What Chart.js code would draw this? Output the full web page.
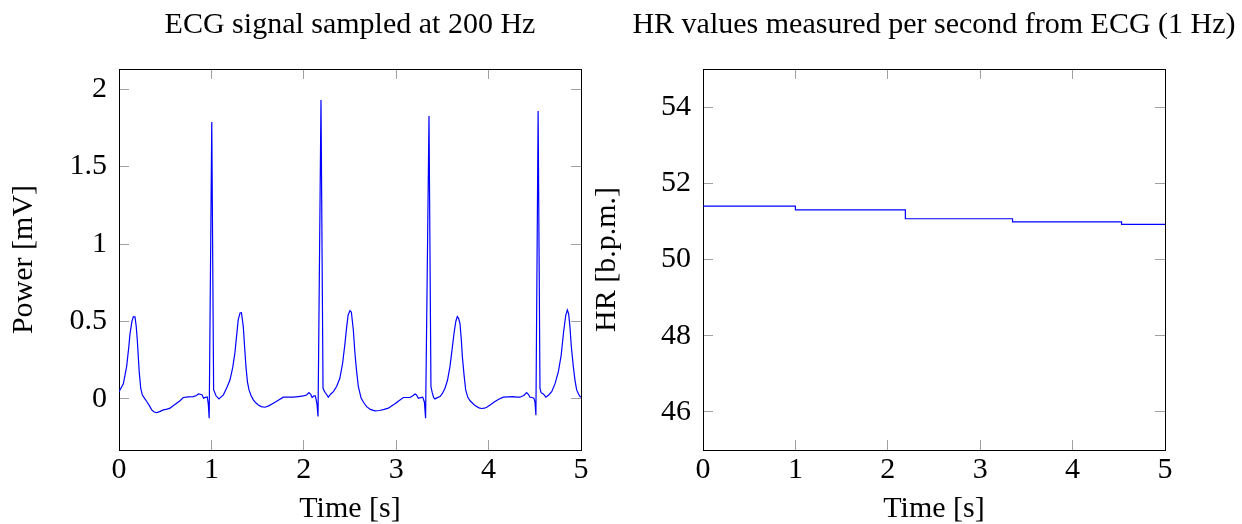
<!DOCTYPE html>
<html>
<head>
<meta charset="utf-8">
<script src="https://cdn.jsdelivr.net/npm/chart.js@4.4.1/dist/chart.umd.min.js"></script>
<style>
  html, body { margin: 0; padding: 0; background: #fff; overflow: hidden; }
  #wrap { position: relative; width: 1242px; height: 524px; overflow: hidden; background: #fff; }
  canvas { position: absolute; top: 0; }
  #ecgChart { left: 0px; }
  #hrChart { left: 580px; }
</style>
</head>
<body>
<div id="wrap">
  <canvas id="ecgChart" width="700" height="524"></canvas>
  <canvas id="hrChart" width="708" height="524"></canvas>
</div>
<script>
//ECG trace (time in s, power in mV)
const ecgTime = [
  0.000, 0.047, 0.083, 0.105, 0.119, 0.140, 0.155, 0.173, 0.186, 0.198, 0.210, 0.220, 0.235, 0.252,
  0.275, 0.300, 0.330, 0.354, 0.380, 0.408, 0.440, 0.480, 0.520, 0.552, 0.590, 0.624, 0.660, 0.696,
  0.750, 0.804, 0.840, 0.858, 0.880, 0.900, 0.915, 0.935, 0.955,
  0.966, 0.976, 1.004, 1.024,
  1.050, 1.082, 1.100, 1.130, 1.165, 1.200, 1.230, 1.255, 1.275, 1.290, 1.310, 1.325, 1.345, 1.360,
  1.374, 1.390, 1.407, 1.430, 1.454, 1.480, 1.508, 1.540, 1.580, 1.620, 1.670, 1.720, 1.778, 1.830,
  1.886, 1.940, 1.995, 2.030, 2.056, 2.075, 2.090, 2.110, 2.125,
  2.142, 2.154, 2.186, 2.208, 2.222,
  2.245, 2.265, 2.290, 2.320, 2.355, 2.390, 2.420, 2.446, 2.465, 2.480, 2.500, 2.515, 2.536, 2.553,
  2.570, 2.590, 2.620, 2.650, 2.680, 2.720, 2.770, 2.820, 2.870, 2.915, 2.950, 2.987, 3.030, 3.077,
  3.115, 3.150, 3.180, 3.203, 3.220, 3.240, 3.265, 3.287,
  3.305, 3.318, 3.355, 3.376, 3.390,
  3.405, 3.420, 3.445, 3.474, 3.500, 3.528, 3.555, 3.582, 3.605, 3.626, 3.645, 3.661, 3.675, 3.690,
  3.705, 3.716, 3.735, 3.752, 3.775, 3.800, 3.830, 3.853, 3.896, 3.925, 3.955, 3.980, 4.020, 4.069,
  4.110, 4.160, 4.210, 4.267, 4.300, 4.340, 4.380, 4.412, 4.430, 4.448, 4.470, 4.490,
  4.502, 4.512, 4.536, 4.556, 4.568,
  4.595, 4.620, 4.650, 4.683, 4.720, 4.755, 4.785, 4.810, 4.835, 4.852, 4.866, 4.880, 4.895, 4.917,
  4.935, 4.953, 4.975, 4.990, 5.000
]
const ecgPower = [
  0.047, 0.097, 0.21, 0.33, 0.42, 0.50, 0.53, 0.53, 0.47, 0.38, 0.26, 0.166, 0.07, 0.026,
  0.005, -0.017, -0.045, -0.071, -0.085, -0.088, -0.082, -0.071, -0.066, -0.06, -0.043, -0.028, -0.012, 0.009,
  0.013, 0.015, 0.022, 0.032, 0.030, 0.026, 0.005, 0.010, 0.012,
  -0.03, -0.125, 1.787, 0.06,
  0.02, 0.0, 0.01, 0.026, 0.07, 0.12, 0.20, 0.30, 0.42, 0.51, 0.555, 0.557, 0.467, 0.33,
  0.208, 0.11, 0.058, 0.02, -0.006, -0.025, -0.039, -0.05, -0.054, -0.045, -0.028, -0.01, 0.011, 0.011,
  0.011, 0.015, 0.019, 0.025, 0.041, 0.03, 0.009, 0.02, 0.02,
  -0.03, -0.114, 1.93, 0.07, 0.05,
  0.03, 0.011, 0.03, 0.047, 0.08, 0.133, 0.23, 0.36, 0.47, 0.542, 0.57, 0.56, 0.445, 0.30,
  0.187, 0.08, 0.005, -0.025, -0.05, -0.068, -0.077, -0.075, -0.068, -0.06, -0.046, -0.032, -0.012, 0.009,
  0.009, 0.009, 0.02, 0.032, 0.025, 0.004, 0.008, 0.011,
  -0.02, -0.125, 1.826, 0.08, 0.04,
  0.01, 0.0, 0.008, 0.015, 0.035, 0.069, 0.12, 0.208, 0.32, 0.424, 0.50, 0.531, 0.52, 0.488,
  0.38, 0.273, 0.15, 0.058, 0.01, -0.012, -0.03, -0.042, -0.058, -0.062, -0.06, -0.054, -0.038, -0.017,
  -0.002, 0.011, 0.013, 0.015, 0.012, 0.011, 0.022, 0.041, 0.03, 0.011, 0.009, 0.005,
  -0.02, -0.105, 1.858, 0.069, 0.04,
  0.03, 0.011, 0.025, 0.047, 0.10, 0.176, 0.28, 0.424, 0.54, 0.574, 0.55, 0.467, 0.34, 0.208,
  0.12, 0.058, 0.03, 0.015, 0.01
]

//HR steps, a new value after each detected beat
const hrTime = [0, 1.0, 2.19, 3.35, 4.53, 5]
const hrValue = [51.4, 51.3, 51.07, 50.99, 50.92, 50.92]

//axis ranges and tick labels
const timeRange = [0, 5]
const powerRange = [-0.33, 2.13]
const hrRange = [45, 55]
const timeTicks = [0, 1, 2, 3, 4, 5]
const powerTicks = [0, 0.5, 1, 1.5, 2]
const hrTicks = [46, 48, 50, 52, 54]

const serif = "'Liberation Serif', 'Times New Roman', serif"
Chart.defaults.font.family = serif
Chart.defaults.color = '#000'

//closed frame with gray tick marks pointing inwards on all four sides
function frameScales(xRange, xTicks, yRange, yTicks, yTitle, yTitlePad, sideWidth) {
    const marks = () => ({ drawOnChartArea: false, drawTicks: true, tickLength: -10, color: 'rgb(160,160,160)', lineWidth: 1 })
    const frame = () => ({ display: true, color: '#000', width: 1 })
    const tickFont = { size: 30, lineHeight: 1.2 }
    const titleFont = { size: 30, lineHeight: 1 }
    const setTicks = list => (s => { s.ticks = list.map(v => ({ value: v })) })
    const label = v => String(+v.toFixed(2))

    return {
        x: {
            type: 'linear', position: 'bottom', min: xRange[0], max: xRange[1],
            border: frame(), grid: marks(),
            afterBuildTicks: setTicks(xTicks),
            ticks: { padding: 12, maxRotation: 0, autoSkip: false, font: tickFont, callback: label },
            title: { display: true, text: 'Time [s]', font: titleFont, padding: { top: 0, bottom: 0 } },
            afterFit: s => { s.height = 74 }
        },
        xTop: {
            type: 'linear', position: 'top', min: xRange[0], max: xRange[1],
            border: frame(), grid: marks(),
            afterBuildTicks: setTicks(xTicks),
            ticks: { display: false },
            afterFit: s => { s.height = 26 }
        },
        y: {
            type: 'linear', position: 'left', min: yRange[0], max: yRange[1],
            border: frame(), grid: marks(),
            afterBuildTicks: setTicks(yTicks),
            ticks: { padding: 22, autoSkip: false, font: tickFont, callback: label },
            title: { display: true, text: yTitle, font: titleFont, padding: { top: yTitlePad, bottom: 0 } },
            afterFit: s => { s.width = sideWidth }
        },
        yRight: {
            type: 'linear', position: 'right', min: yRange[0], max: yRange[1],
            border: frame(), grid: marks(),
            afterBuildTicks: setTicks(yTicks),
            ticks: { display: false },
            afterFit: s => { s.width = sideWidth }
        }
    }
}

function titleOpts(text) {
    return {
        display: true,
        text: text,
        color: '#000',
        font: { size: 30, weight: 'normal', lineHeight: 1.2 },
        padding: { top: 7, bottom: 0 }
    }
}


/**ECG chart */

const ecgChart = new Chart(document.getElementById('ecgChart'), {
    type: 'line',
    data: {
        datasets: [{
            label: 'ECG',
            data: ecgTime.map((t, i) => ({ x: t, y: ecgPower[i] })),
            borderColor: 'rgb(0, 0, 255)',
            borderWidth: 1.2,
            pointRadius: 0,
            tension: 0,
            fill: false
        }]
    },
    options: {
        responsive: false,
        animation: false,
        scales: frameScales(timeRange, timeTicks, powerRange, powerTicks, 'Power [mV]', 9, 119),
        plugins: {
            legend: { display: false },
            tooltip: { enabled: false },
            title: titleOpts('ECG signal sampled at 200 Hz')
        }
    }
});


/**HR chart */

const hrChart = new Chart(document.getElementById('hrChart'), {
    type: 'line',
    data: {
        datasets: [{
            label: 'HR',
            data: hrTime.map((t, i) => ({ x: t, y: hrValue[i] })),
            borderColor: 'rgb(0, 0, 255)',
            borderWidth: 1.2,
            pointRadius: 0,
            stepped: 'before',
            fill: false
        }]
    },
    options: {
        responsive: false,
        animation: false,
        scales: frameScales(timeRange, timeTicks, hrRange, hrTicks, 'HR [b.p.m.]', 12, 123),
        plugins: {
            legend: { display: false },
            tooltip: { enabled: false },
            title: titleOpts('HR values measured per second from ECG (1 Hz)')
        }
    }
});
</script>
</body>
</html>
